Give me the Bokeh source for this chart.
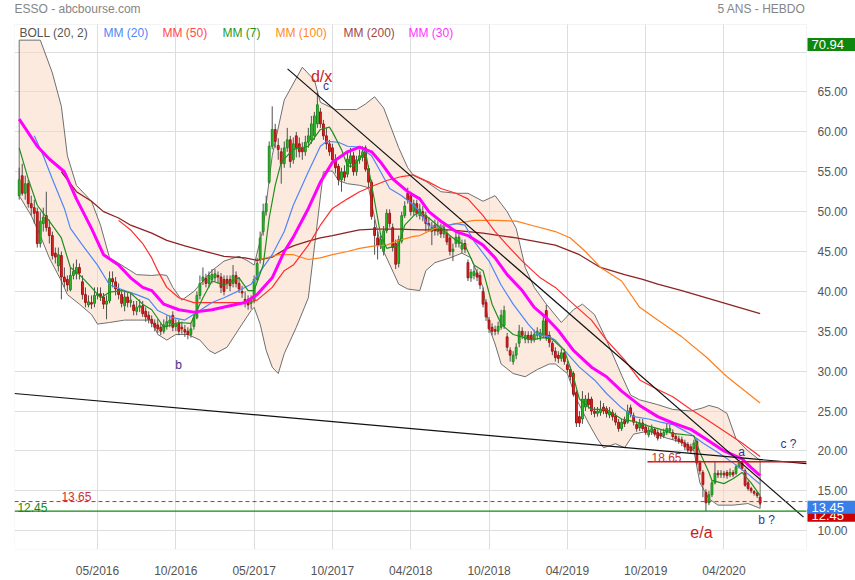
import pandas as pd
from bokeh.plotting import figure
from bokeh.models import (Range1d, FixedTicker, NumeralTickFormatter, DatetimeTickFormatter,
                          Label, BoxAnnotation, ColumnDataSource)
from bokeh.embed import file_html
from bokeh.resources import INLINE

FONT = "Liberation Sans"

# ---------------- data ----------------
first_week = "2015-11-02"   # weekly candles, one per week

open_ = [52.0, 54.5, 52.3, 53.5, 51.0, 50.5, 50.0, 46.0, 48.5, 49.5, 48.0, 47.0, 44.8, 43.2, 44.5, 41.8, 41.5, 40.2, 42.0, 42.2,
         43.0, 41.2, 39.6, 38.3, 38.6, 38.5, 39.5, 39.7, 39.3, 38.4, 38.8, 41.6, 41.2, 40.3, 39.6, 38.2, 39.3, 38.6, 38.3, 37.5,
         38.0, 38.2, 37.5, 37.0, 36.5, 36.0, 35.8, 35.5, 35.0, 35.6, 36.0, 37.0, 35.6, 36.0, 35.5, 35.2, 35.0, 34.6, 35.6, 36.7,
         39.5, 41.3, 41.6, 41.0, 41.5, 41.7, 42.0, 41.8, 41.5, 41.5, 41.5, 41.0, 42.0, 41.0, 40.0, 39.0, 39.0, 38.5, 38.8, 41.5,
         44.0, 47.5, 50.0, 53.7, 58.2, 60.3, 58.3, 57.5, 56.0, 58.0, 59.0, 56.5, 59.5, 58.5, 58.0, 57.5, 58.7, 59.0, 59.5, 61.0,
         62.5, 61.0, 59.5, 58.5, 58.0, 56.5, 55.7, 54.0, 55.0, 54.7, 56.0, 57.0, 55.0, 56.5, 56.8, 58.0, 55.4, 53.7, 48.0, 46.7,
         45.8, 45.0, 47.6, 49.8, 48.0, 46.0, 43.5, 46.3, 49.5, 52.3, 52.0, 50.0, 51.0, 49.5, 50.0, 49.5, 48.5, 47.5, 48.3, 47.5,
         48.0, 47.2, 47.3, 46.7, 45.0, 46.0, 46.0, 45.3, 46.0, 43.6, 41.7, 42.0, 42.3, 42.0, 40.0, 38.6, 36.4, 35.5, 35.2, 35.0,
         35.5, 35.7, 34.3, 32.6, 31.2, 32.0, 33.5, 35.0, 34.0, 34.5, 34.5, 34.0, 34.5, 34.3, 34.5, 37.6, 34.5, 33.5, 32.5, 32.0,
         31.6, 32.3, 30.8, 30.2, 29.7, 27.3, 24.3, 24.0, 25.5, 26.5, 26.5, 25.0, 24.7, 24.8, 25.5, 25.3, 24.5, 24.8, 24.4, 23.6,
         22.8, 23.8, 23.6, 25.4, 24.4, 23.3, 22.9, 23.5, 23.0, 22.0, 22.4, 22.7, 22.3, 22.2, 21.9, 22.3, 22.5, 22.3, 21.8, 21.5,
         21.4, 21.0, 20.8, 20.5, 20.3, 21.2, 18.5, 17.3, 14.8, 13.5, 14.5, 16.0, 17.2, 17.0, 17.2, 17.3, 17.0, 17.3, 17.2, 18.0,
         18.5, 17.5, 16.0, 15.3, 14.9, 14.7, 14.2]
close_ = [54.0, 52.3, 53.5, 51.0, 50.5, 49.8, 46.0, 48.8, 49.3, 48.0, 47.0, 44.5, 44.3, 44.6, 41.8, 41.2, 40.8, 42.0, 42.5, 43.0,
          42.3, 39.6, 38.6, 38.7, 38.4, 39.5, 39.7, 39.4, 38.4, 38.8, 41.6, 41.2, 40.3, 39.6, 38.5, 39.3, 38.6, 38.9, 37.6, 38.0,
          38.2, 37.2, 36.8, 36.5, 36.0, 35.5, 35.3, 35.0, 35.8, 36.2, 36.4, 35.5, 35.9, 35.0, 35.3, 34.9, 34.6, 35.3, 36.7, 39.5,
          41.0, 41.8, 41.0, 42.0, 42.1, 42.2, 41.8, 40.5, 40.0, 41.0, 40.7, 42.0, 41.0, 40.3, 39.8, 38.5, 38.3, 38.8, 41.5, 43.5,
          46.7, 50.0, 51.0, 58.2, 60.3, 58.8, 57.8, 56.0, 58.0, 59.0, 56.3, 58.5, 58.0, 57.5, 57.5, 58.7, 59.5, 61.0, 62.0, 63.4,
          61.0, 59.5, 58.5, 57.5, 56.5, 55.5, 54.0, 55.0, 54.3, 56.6, 57.0, 55.0, 56.5, 57.0, 57.5, 55.3, 53.7, 49.4, 47.0, 45.8,
          46.5, 47.6, 49.8, 48.5, 45.5, 43.4, 46.5, 49.5, 50.7, 51.5, 50.0, 51.0, 49.8, 50.3, 49.4, 48.5, 48.3, 48.0, 47.6, 48.0,
          47.2, 48.0, 46.2, 45.0, 45.3, 46.8, 46.8, 45.8, 45.3, 41.7, 42.4, 42.5, 41.8, 40.8, 38.4, 36.8, 35.3, 35.0, 35.0, 35.6,
          37.0, 37.6, 33.0, 32.0, 32.0, 33.0, 35.0, 34.5, 34.5, 34.0, 34.0, 34.6, 35.0, 34.8, 36.3, 34.2, 33.6, 32.5, 31.7, 31.6,
          32.3, 31.2, 30.2, 29.3, 27.1, 23.5, 23.5, 26.5, 26.5, 25.8, 25.0, 24.7, 25.0, 25.2, 25.0, 24.7, 24.9, 24.3, 23.6, 22.8,
          23.6, 23.4, 25.0, 24.6, 23.6, 22.8, 23.5, 22.8, 22.3, 22.6, 22.8, 22.1, 21.6, 21.9, 22.3, 22.8, 22.8, 21.8, 21.5, 21.2,
          21.0, 20.5, 20.1, 20.0, 21.0, 18.5, 17.5, 15.8, 13.5, 14.5, 16.0, 17.2, 17.0, 17.2, 17.0, 16.9, 17.3, 17.0, 18.0, 18.5,
          17.8, 15.7, 15.3, 15.0, 14.7, 14.4, 13.45]
high_ = [55.5, 56.0, 54.5, 54.0, 52.0, 51.5, 50.5, 50.0, 50.5, 52.5, 49.0, 47.5, 45.5, 45.5, 45.0, 43.0, 42.0, 43.0, 43.5, 44.0,
         43.5, 42.0, 40.5, 39.5, 39.5, 40.5, 40.5, 40.5, 39.8, 39.5, 42.5, 42.5, 41.8, 41.0, 40.0, 40.0, 39.8, 39.8, 38.8, 38.8,
         39.0, 38.8, 38.0, 37.5, 37.0, 36.5, 36.5, 36.0, 36.5, 37.0, 37.0, 37.5, 36.5, 36.5, 36.2, 35.8, 35.5, 36.0, 37.2, 40.0,
         42.0, 43.0, 42.2, 42.5, 42.8, 42.8, 42.5, 42.3, 42.0, 42.0, 42.0, 43.3, 42.5, 41.8, 40.7, 40.0, 39.5, 39.5, 42.0, 44.2,
         47.5, 51.0, 52.0, 58.8, 63.2, 61.0, 59.2, 58.0, 58.8, 60.5, 59.5, 59.3, 60.0, 59.3, 58.7, 59.5, 60.5, 62.0, 62.5, 65.0,
         63.0, 61.5, 60.5, 59.0, 58.5, 57.2, 56.0, 55.5, 55.8, 57.5, 58.0, 57.5, 57.0, 57.8, 58.2, 58.3, 55.8, 54.0, 49.0, 47.5,
         47.0, 48.2, 50.3, 50.3, 48.5, 46.5, 47.0, 50.0, 51.3, 53.0, 52.5, 51.5, 51.5, 51.0, 50.7, 50.0, 49.3, 48.7, 49.0, 48.8,
         48.5, 48.5, 47.8, 47.0, 46.0, 47.3, 47.2, 46.5, 46.5, 44.0, 42.8, 43.2, 42.8, 42.5, 40.5, 39.0, 36.8, 36.0, 35.7, 36.2,
         37.7, 38.2, 34.8, 33.0, 32.5, 33.5, 35.8, 35.5, 35.0, 35.0, 35.0, 35.2, 35.5, 35.3, 37.0, 38.3, 35.0, 33.8, 33.0, 32.5,
         32.8, 32.8, 31.3, 30.6, 30.0, 27.6, 25.0, 27.5, 27.0, 27.3, 26.8, 25.5, 25.5, 26.3, 26.0, 25.6, 25.5, 25.2, 24.8, 24.0,
         24.0, 24.3, 25.8, 25.8, 24.8, 23.7, 24.0, 24.0, 23.4, 23.0, 23.3, 23.0, 22.7, 22.6, 22.8, 23.5, 23.3, 22.7, 22.2, 21.9,
         21.8, 21.4, 21.1, 20.9, 21.4, 21.6, 18.8, 17.6, 15.2, 15.0, 16.3, 18.6, 17.6, 17.6, 17.5, 17.6, 17.8, 17.6, 18.3, 18.9,
         18.7, 17.8, 16.3, 15.5, 15.1, 14.9, 14.3]
low_ = [51.5, 52.0, 51.5, 50.5, 49.5, 48.5, 45.5, 45.5, 47.5, 47.5, 46.0, 44.0, 43.5, 42.5, 39.0, 40.5, 40.0, 40.0, 41.5, 41.5,
        41.5, 39.0, 38.0, 38.0, 37.8, 38.0, 39.0, 38.8, 37.8, 36.5, 38.5, 40.5, 39.5, 39.0, 38.0, 37.5, 38.0, 38.0, 37.0, 37.0,
        37.4, 36.8, 36.2, 36.0, 35.5, 35.0, 34.8, 34.5, 34.7, 35.2, 35.5, 35.0, 35.0, 34.5, 34.7, 34.3, 34.0, 34.2, 35.2, 36.5,
        39.0, 40.8, 40.5, 40.5, 41.0, 41.2, 41.0, 39.8, 39.5, 40.3, 40.0, 40.5, 40.5, 39.8, 39.2, 38.0, 37.7, 37.8, 38.5, 41.2,
        43.5, 47.0, 49.5, 53.5, 57.8, 58.0, 56.5, 53.5, 55.5, 57.5, 55.5, 56.0, 56.8, 56.8, 56.5, 57.0, 58.0, 58.5, 59.0, 60.5,
        60.5, 59.0, 57.8, 57.0, 56.0, 54.8, 53.3, 52.5, 53.8, 54.3, 55.5, 54.5, 54.5, 56.0, 56.3, 55.0, 53.0, 49.0, 44.6, 44.0,
        45.3, 44.5, 47.3, 48.0, 45.0, 42.8, 43.0, 46.0, 49.2, 51.0, 49.5, 49.5, 49.3, 49.0, 48.8, 47.5, 47.5, 45.8, 47.0, 47.0,
        46.7, 46.7, 45.8, 44.5, 43.8, 45.5, 45.5, 44.8, 44.8, 41.3, 41.2, 41.5, 41.3, 40.3, 38.0, 36.3, 34.8, 34.5, 34.5, 34.6,
        35.2, 35.3, 32.5, 31.2, 30.8, 31.5, 33.0, 34.0, 33.5, 33.5, 33.5, 33.6, 34.0, 33.8, 34.2, 33.8, 33.0, 32.0, 31.2, 31.0,
        31.2, 30.8, 29.8, 28.8, 26.8, 23.0, 23.0, 23.4, 25.0, 25.3, 24.5, 24.2, 24.3, 24.4, 24.6, 24.2, 24.1, 23.8, 23.2, 22.4,
        22.5, 23.0, 23.4, 24.2, 23.2, 22.4, 22.5, 22.5, 22.0, 21.7, 22.0, 21.8, 21.3, 21.5, 21.6, 22.0, 22.2, 21.4, 21.1, 20.9,
        20.6, 20.1, 19.8, 19.6, 20.0, 18.2, 17.0, 14.2, 12.45, 13.2, 14.2, 15.8, 16.6, 16.6, 16.6, 16.5, 16.7, 16.7, 17.0, 17.8,
        17.5, 15.5, 15.0, 14.7, 14.4, 14.1, 13.2]

# indicator lines: week index (0 = first candle) and value
boll_up_wk = [0, 7, 11, 14, 16, 19, 24, 27, 30, 34, 39, 44, 47, 49, 51, 54, 58, 64, 68, 73, 76, 78, 81, 84, 88, 94, 98, 100,
              105, 112, 115, 118, 121, 123, 126, 129, 131, 135, 140, 145, 149, 154, 158, 162, 165, 168, 171, 175, 180, 184,
              187, 191, 195, 200, 203, 206, 212, 217, 223, 227, 229, 232, 235, 238, 242, 246]
boll_up_val = [71.5, 71.5, 67.4, 63.2, 57.0, 53.3, 51.3, 48.3, 44.2, 43.3, 42.1, 42.0, 42.1, 42.0, 40.5, 38.9, 40.0, 42.6,
               43.8, 44.4, 43.8, 43.3, 47.9, 57.0, 64.0, 68.1, 66.5, 63.7, 62.8, 62.8, 63.5, 64.4, 63.0, 61.0, 58.0, 55.5,
               54.5, 53.8, 52.5, 52.3, 52.3, 51.3, 52.0, 50.0, 47.9, 43.0, 40.5, 38.4, 36.1, 37.7, 38.4, 37.1, 33.9, 29.5,
               27.0, 26.4, 25.8, 25.2, 25.0, 25.4, 25.7, 25.4, 24.7, 21.5, 20.0, 18.8]
boll_lo_wk = [0, 4, 7, 10, 14, 16, 20, 24, 26, 30, 35, 39, 44, 46, 49, 52, 56, 60, 63, 65, 69, 74, 77, 78, 80, 82, 84, 86,
              88, 92, 96, 101, 104, 106, 109, 113, 116, 118, 120, 122, 126, 129, 133, 135, 138, 143, 147, 150, 154, 156,
              158, 160, 164, 168, 172, 176, 178, 182, 185, 189, 192, 194, 198, 201, 204, 209, 215, 221, 224, 226, 229,
              232, 237, 242, 246]
boll_lo_val = [52.0, 49.5, 47.0, 44.2, 41.3, 39.6, 38.4, 37.1, 35.9, 36.1, 36.4, 36.4, 36.4, 34.6, 33.9, 34.6, 34.6, 33.9,
               32.6, 32.2, 33.0, 35.9, 37.6, 38.0, 35.9, 32.6, 30.5, 29.7, 32.2, 35.5, 39.2, 55.0, 55.1, 53.9, 53.5, 53.3,
               53.0, 49.2, 45.8, 44.2, 40.9, 40.3, 40.1, 42.6, 43.6, 44.2, 44.8, 44.2, 40.5, 35.5, 33.4, 30.9, 29.7, 29.3,
               30.2, 30.9, 30.9, 29.7, 26.5, 23.5, 21.5, 20.4, 20.9, 20.4, 22.1, 22.5, 21.6, 21.0, 20.0, 16.0, 14.0, 13.2,
               13.2, 13.4, 12.8]
mm20_wk = [5, 8, 11, 15, 17, 21, 26, 30, 35, 39, 43, 46, 51, 55, 60, 64, 68, 73, 77, 81, 84, 88, 91, 96, 100, 102, 106,
           109, 113, 117, 120, 123, 127, 131, 133, 136, 141, 145, 148, 151, 156, 160, 164, 169, 172, 176, 178, 182, 186,
           191, 195, 200, 204, 209, 213, 217, 220, 223, 227, 232, 237, 242, 246]
mm20_val = [59.5, 57.0, 54.1, 50.4, 47.9, 45.8, 43.3, 40.8, 40.1, 39.6, 39.0, 37.6, 36.7, 36.4, 37.6, 38.6, 39.2, 40.1,
            40.9, 43.0, 44.6, 47.5, 50.8, 55.0, 58.2, 58.8, 58.7, 58.2, 58.1, 57.0, 55.0, 52.9, 52.0, 50.8, 50.0, 48.2,
            48.2, 48.5, 48.3, 46.3, 43.8, 40.8, 38.4, 35.9, 34.6, 34.3, 33.9, 32.2, 30.5, 28.9, 27.2, 25.4, 24.3, 24.0,
            23.6, 23.3, 22.7, 22.1, 21.0, 19.8, 18.5, 17.1, 15.8]
mm50_wk = [33, 37, 41, 44, 46, 49, 53, 58, 64, 69, 75, 79, 84, 88, 91, 96, 100, 104, 109, 113, 118, 122, 127, 131, 136,
           140, 145, 149, 154, 158, 162, 167, 173, 178, 184, 190, 195, 201, 206, 212, 217, 223, 228, 234, 240, 246]
mm50_val = [48.9, 47.7, 46.0, 44.2, 42.6, 40.5, 39.2, 38.6, 38.6, 38.6, 38.6, 38.9, 40.5, 42.6, 43.3, 45.8, 48.3, 50.4,
            51.6, 52.5, 53.3, 53.9, 54.4, 54.6, 53.7, 52.9, 52.3, 51.6, 49.5, 47.5, 45.8, 43.8, 41.7, 40.5, 38.4, 36.4,
            33.9, 31.4, 28.9, 27.7, 26.8, 25.2, 24.0, 22.5, 21.0, 19.3]
mm7_wk = [0, 3, 6, 10, 14, 17, 20, 24, 27, 30, 34, 37, 41, 44, 48, 53, 57, 61, 64, 68, 73, 76, 78, 81, 83, 85, 87, 91, 96,
          100, 103, 104, 107, 109, 111, 113, 115, 116, 118, 120, 122, 126, 128, 131, 133, 136, 140, 145, 148, 151, 154,
          157, 160, 164, 167, 170, 174, 177, 181, 184, 186, 190, 195, 200, 204, 209, 213, 217, 224, 226, 229, 230, 234,
          237, 240, 243, 246]
mm7_val = [58.0, 54.1, 50.8, 48.8, 46.7, 43.0, 42.1, 40.5, 39.2, 39.9, 40.1, 39.8, 38.4, 37.7, 35.5, 36.1, 36.0, 39.2, 41.3,
           40.8, 41.7, 40.1, 40.1, 43.3, 49.2, 53.3, 56.2, 57.8, 58.2, 60.3, 60.6, 60.0, 57.8, 55.7, 55.7, 56.6, 57.5, 55.4,
           51.3, 47.1, 45.4, 45.8, 48.3, 49.5, 50.0, 49.2, 47.9, 46.4, 45.8, 43.3, 42.6, 38.4, 35.9, 34.6, 34.3, 33.9, 34.2,
           34.0, 32.6, 29.3, 26.5, 25.2, 25.2, 24.0, 23.7, 23.1, 22.7, 22.2, 21.9, 19.8, 17.3, 16.3, 15.9, 16.5, 17.3, 16.0,
           14.4]
mm100_wk = [80, 86, 91, 96, 100, 104, 109, 113, 118, 122, 126, 131, 133, 138, 145, 151, 158, 165, 171, 178, 183, 188, 193,
            200, 206, 212, 217, 220, 228, 235, 246]
mm100_val = [44.0, 44.6, 44.6, 44.0, 44.2, 44.6, 45.0, 45.4, 45.7, 45.8, 46.4, 46.9, 47.0, 47.9, 48.5, 48.9, 48.9, 48.8,
             48.2, 47.5, 46.7, 45.0, 43.0, 41.3, 38.0, 36.4, 35.1, 34.3, 31.8, 29.3, 26.0]
mm200_wk = [14, 19, 24, 28, 33, 37, 44, 49, 55, 62, 68, 75, 79, 84, 88, 91, 96, 100, 104, 109, 113, 118, 126, 133, 143,
            154, 165, 178, 186, 193, 201, 207, 212, 220, 246]
mm200_val = [55.0, 52.5, 51.3, 50.0, 49.2, 48.3, 47.3, 46.4, 45.7, 45.0, 44.4, 44.2, 43.9, 44.3, 45.2, 45.7, 46.3, 46.7,
             47.0, 47.4, 47.7, 47.8, 47.8, 47.7, 47.7, 47.3, 46.7, 45.8, 44.6, 43.0, 42.1, 41.5, 40.9, 40.1, 37.2]
mm30_wk = [0, 6, 10, 15, 19, 24, 28, 33, 37, 41, 44, 48, 53, 58, 64, 70, 75, 79, 84, 88, 91, 96, 100, 104, 109, 113, 117,
           120, 124, 129, 133, 136, 140, 145, 149, 154, 158, 162, 167, 171, 175, 179, 184, 190, 195, 200, 206, 212, 217,
           223, 228, 234, 240, 243, 246]
mm30_val = [61.6, 58.2, 56.6, 55.0, 51.6, 47.9, 44.6, 43.3, 41.7, 40.5, 40.1, 38.4, 37.7, 37.4, 37.7, 38.2, 38.6, 39.6,
            41.7, 45.0, 46.8, 50.4, 53.7, 56.2, 57.5, 58.1, 57.5, 56.2, 54.1, 52.5, 51.6, 50.0, 48.8, 47.5, 47.0, 45.8,
            44.2, 42.1, 40.1, 38.0, 36.7, 35.1, 32.6, 30.5, 29.3, 27.5, 25.7, 24.3, 23.5, 22.7, 21.5, 20.0, 19.0, 17.9,
            16.9]

# hand-drawn trend lines (week index, price)
trend1_wk = [89.1, 260.4]
trend1_val = [67.9, 11.7]
trend2_wk = [-1.6, 261.4]
trend2_val = [27.2, 18.4]
level_resist = 18.65
level_dash = 13.65
level_low = 12.45
last_high_badge = 70.94
last_close = 13.45

tick_weeks = [26, 52, 78, 104, 130, 156, 182, 208, 234]
tick_labels = ["05/2016", "10/2016", "05/2017", "10/2017", "04/2018", "10/2018", "04/2019", "10/2019", "04/2020"]
y_ticks = [10, 15, 20, 25, 30, 35, 40, 45, 50, 55, 60, 65, 70]

legend_labels = ["BOLL (20, 2)", "MM (20)", "MM (50)", "MM (7)", "MM (100)", "MM (200)", "MM (30)"]
legend_colors = ["#555555", "#4f86f7", "#ff4a4a", "#1f9a1f", "#ff8a1e", "#a04848", "#ff33ff"]

# wave annotations: (text, week index, price)
wave_marks = [("c", 101.9, 65.7), ("b", 52.9, 30.8), ("a", 239.8, 19.9), ("c ?", 255.4, 20.9), ("b ?", 248.1, 11.3)]
red_marks = [("d/x", 100.4, 67.0), ("e/a", 226.5, 9.8)]

# ---------------- helpers ----------------
t0 = pd.Timestamp(first_week)
WEEK = pd.Timedelta(days=7)


def to_ms(k):
    return (t0 + WEEK * k).value / 1e6


week_ms = [to_ms(k) for k in range(len(close_))]

# visible chart area (week index / price) ; the frame also spans the header strip and the price-badge column
area_left, area_right = -1.56, 261.4
area_top = 73.47
x_end = to_ms(area_right)

W, H = 855, 580
p = figure(width=W, height=H, x_axis_type="datetime", y_axis_location="right",
           output_backend="svg", toolbar_location=None,
           x_range=Range1d(to_ms(area_left), to_ms(277.66)), y_range=Range1d(7.64, 76.47),
           min_border_left=14, min_border_right=0, min_border_top=0, min_border_bottom=26)
p.background_fill_color = "white"
p.border_fill_color = "white"
p.outline_line_color = None

xt = FixedTicker(ticks=[to_ms(k) for k in tick_weeks])
p.xaxis.ticker = xt
p.xgrid.ticker = xt
p.xaxis.formatter = DatetimeTickFormatter(days="%m/%Y", months="%m/%Y", years="%m/%Y")
p.xaxis.major_label_overrides = {to_ms(k): lab for k, lab in zip(tick_weeks, tick_labels)}
yt = FixedTicker(ticks=y_ticks)
p.yaxis.ticker = yt
p.ygrid.ticker = yt
p.yaxis.fixed_location = x_end
p.yaxis.formatter = NumeralTickFormatter(format="0.00")
p.yaxis.major_label_overrides = {70: ""}
for ax in (p.xaxis, p.yaxis):
    ax.axis_line_color = None
    ax.major_tick_line_color = None
    ax.minor_tick_line_color = None
    ax.major_label_text_color = "#555555"
    ax.major_label_text_font = FONT
    ax.major_label_text_font_size = "12px"
p.xaxis.major_label_standoff = 8
p.yaxis.major_label_standoff = 5
p.xgrid.grid_line_color = "#dddddd"
p.ygrid.grid_line_color = "#dddddd"

# hide the grid outside the chart area (header strip and price column)
p.add_layout(BoxAnnotation(bottom=area_top, fill_color="white", fill_alpha=1, line_color=None, level="underlay"))
p.add_layout(BoxAnnotation(left=x_end, fill_color="white", fill_alpha=1, line_color=None, level="underlay"))

# Bollinger band
band_x = [to_ms(k) for k in boll_up_wk] + [to_ms(k) for k in reversed(boll_lo_wk)]
band_y = list(boll_up_val) + list(reversed(boll_lo_val))
p.patch(band_x, band_y, fill_color="#fbd6c0", fill_alpha=0.5, line_color="#6f6f6f", line_width=1)

# candles
up = [c >= o for o, c in zip(open_, close_)]
src = ColumnDataSource(dict(
    x=week_ms, high=high_, low=low_,
    top=[max(o, c) for o, c in zip(open_, close_)],
    bottom=[min(o, c) for o, c in zip(open_, close_)],
    fill=["#2fc42f" if u else "#e02424" for u in up],
    edge=["#1a8a1a" if u else "#a51212" for u in up],
))
p.segment(x0="x", y0="low", x1="x", y1="high", source=src, line_color="#505050", line_width=1)
p.vbar(x="x", width=7 * 86400000 * 0.6, top="top", bottom="bottom", source=src,
       fill_color="fill", line_color="edge", line_width=1)

# moving averages
series = [(mm200_wk, mm200_val, "#8e2323", 1.3), (mm100_wk, mm100_val, "#ff7f1a", 1.2),
          (mm50_wk, mm50_val, "#ff2d2d", 1.2), (mm20_wk, mm20_val, "#4f86f7", 1.2),
          (mm7_wk, mm7_val, "#1f8f1f", 1.2), (mm30_wk, mm30_val, "#ff00ff", 3)]
for wks, vals, col, lw in series:
    p.line([to_ms(k) for k in wks], vals, line_color=col, line_width=lw)

# trend lines and levels
p.line([to_ms(k) for k in trend1_wk], trend1_val, line_color="#111111", line_width=1.2)
p.line([to_ms(k) for k in trend2_wk], trend2_val, line_color="#111111", line_width=1.2)
p.segment(x0=[to_ms(208.6)], y0=[level_resist], x1=[x_end], y1=[level_resist],
          line_color="#d01515", line_width=1.5)
p.segment(x0=[to_ms(area_left)], y0=[level_dash], x1=[x_end], y1=[level_dash],
          line_color="#dd2222", line_width=1, line_dash="4 3")
p.segment(x0=[to_ms(area_left)], y0=[level_low], x1=[x_end], y1=[level_low],
          line_color="#138a13", line_width=1.2)

# chart-area border
p.add_layout(BoxAnnotation(right=x_end, top=area_top, fill_alpha=0, line_color="#d4d4d4", line_width=1))

# level labels
p.add_layout(Label(x=to_ms(214.9), y=19.15, text="18.65", text_color="#d03030", text_font=FONT,
                   text_font_size="12px", text_align="center", text_baseline="middle"))
p.add_layout(Label(x=to_ms(19), y=14.25, text="13.65", text_color="#d03030", text_font=FONT,
                   text_font_size="12px", text_align="center", text_baseline="middle"))
p.add_layout(Label(x=to_ms(4.4), y=12.95, text="12.45", text_color="#138a13", text_font=FONT,
                   text_font_size="12px", text_align="center", text_baseline="middle"))

for txt, k, v in wave_marks:
    p.add_layout(Label(x=to_ms(k), y=v, text=txt, text_color="#33338f", text_font=FONT,
                       text_font_size="12px", text_align="center", text_baseline="middle"))
for txt, k, v in red_marks:
    p.add_layout(Label(x=to_ms(k), y=v, text=txt, text_color="#cc2020", text_font=FONT,
                       text_font_size="16px", text_align="center", text_baseline="middle"))

# legend row (top strip of the chart area)
legend_x = [19, 103, 162, 222, 275, 343, 408]
for txt, col, lx in zip(legend_labels, legend_colors, legend_x):
    p.add_layout(Label(x=lx, y=32, x_units="canvas", y_units="canvas", text=txt, text_color=col,
                       text_font=FONT, text_font_size="12px", text_baseline="middle"))

# header
p.add_layout(Label(x=14, y=8, x_units="canvas", y_units="canvas", text="ESSO - abcbourse.com",
                   text_color="#858585", text_font=FONT, text_font_size="12px", text_baseline="middle"))
p.add_layout(Label(x=805, y=8, x_units="canvas", y_units="canvas", text="5 ANS - HEBDO",
                   text_color="#858585", text_font=FONT, text_font_size="12px", text_baseline="middle",
                   text_align="right"))

# price badges on the right scale
badges = [(last_high_badge, "#0f870f", 0), (level_low, "#cc0000", -4), (last_close, "#3a7ee8", -4)]
for val, col, off in badges:
    p.add_layout(Label(x=807, x_units="canvas", y=val, y_units="data", y_offset=off, text=f"{val:.2f}",
                       text_color="white", text_font=FONT, text_font_size="13px", text_baseline="middle",
                       background_fill_color=col, padding=dict(left=4, right=15, top=2, bottom=2)))

open("out.html", "w").write(file_html(p, INLINE))
